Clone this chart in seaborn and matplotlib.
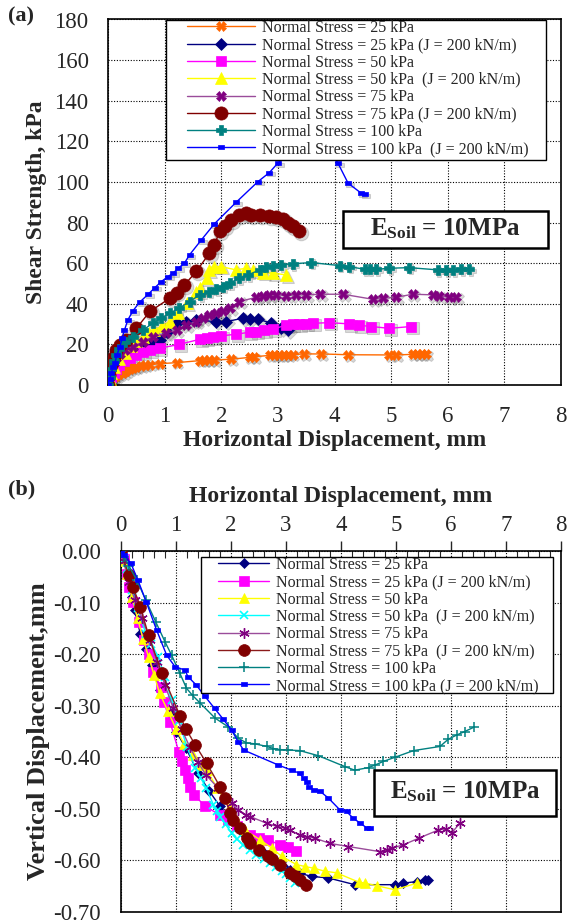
import numpy as np
import pandas as pd
import matplotlib
matplotlib.use("Agg")
import matplotlib.pyplot as plt
from matplotlib.patches import Rectangle
from matplotlib.ticker import MultipleLocator, FormatStrFormatter
from matplotlib.transforms import ScaledTranslation
import seaborn as sns

# ---------------- data : panel (a) shear strength ----------------
a_x_25 = [0, 0.03, 0.06, 0.1, 0.15, 0.2, 0.26, 0.32, 0.38, 0.44, 0.5, 0.59, 0.66, 0.74, 0.91, 1.21, 1.62, 1.70, 1.78, 1.88,
          2.18, 2.50, 2.58, 2.86, 2.94, 3.02, 3.10, 3.18, 3.26, 3.47, 3.76, 4.24, 4.97, 5.09, 5.38, 5.46, 5.54, 5.62]
a_y_25 = [0, 1.5, 3, 3.8, 4.5, 5.2, 5.8, 7.0, 8.0, 8.5, 9.0, 9.5, 9.8, 10.0, 10.5, 11.0, 12.0, 12.1, 12.2, 12.3,
          12.7, 13.6, 13.9, 14.6, 14.8, 14.8, 14.9, 14.9, 15.0, 15.3, 15.3, 14.9, 14.8, 14.8, 15.1, 15.1, 15.2, 15.2]
a_x_25J = [0, 0.03, 0.06, 0.1, 0.2, 0.3, 0.45, 0.6, 0.75, 0.91, 1.05, 1.21, 1.38, 1.56, 1.91, 2.09, 2.38, 2.50, 2.65,
           2.88, 3.06, 3.18]
a_y_25J = [0, 2, 5, 8, 11, 13, 16, 18.5, 20.5, 22.2, 26, 30.4, 31.1, 32.0, 31.2, 31.2, 32.9, 32.5, 32.5, 30.4, 27.9, 27.1]
a_x_50 = [0, 0.03, 0.06, 0.1, 0.15, 0.2, 0.28, 0.38, 0.5, 0.62, 0.75, 0.91, 1.26, 1.62, 1.74, 1.85, 2.0, 2.26, 2.5,
          2.62, 2.76, 2.91, 3.15, 3.26, 3.38, 3.5, 3.62, 3.91, 4.26, 4.44, 4.65, 4.97, 5.35]
a_y_50 = [0, 2, 4, 6, 8, 10, 12, 13.5, 15, 16.3, 17.2, 18.1, 20.0, 22.5, 23.0, 23.5, 24.2, 25.0, 26.0, 26.3, 27.1,
          27.4, 29.6, 29.9, 30.1, 30.2, 30.4, 30.7, 30.1, 29.4, 28.8, 27.9, 28.8]
a_x_50J = [0, 0.03, 0.06, 0.1, 0.2, 0.3, 0.4, 0.5, 0.62, 0.72, 0.82, 0.95, 1.09, 1.24, 1.40, 1.56, 1.62, 1.74, 1.79,
           1.88, 2.0, 2.26, 2.44, 2.56, 2.74, 2.91, 3.15]
a_y_50J = [0, 3, 6, 9, 13, 16, 19, 21.5, 23.8, 25.5, 27.1, 29, 31.2, 35.3, 40.5, 46.0, 47.7, 52.6, 56.7, 58.3, 58.3,
           56.7, 57.5, 56.4, 55.4, 55.1, 54.2]
a_x_75 = [0, 0.03, 0.06, 0.1, 0.15, 0.22, 0.3, 0.44, 0.62, 0.79, 1.03, 1.21, 1.38, 1.56, 1.68, 1.79, 1.91, 2.03, 2.15,
          2.32, 2.62, 2.74, 2.85, 2.97, 3.15, 3.32, 3.5, 3.74, 4.15, 4.68, 4.85, 5.09, 5.38, 5.74, 5.85, 6.03, 6.15]
a_y_75 = [0, 4, 8, 11, 13.5, 15.5, 17, 18.9, 21.4, 23.8, 25.5, 27.1, 29.6, 31.2, 32.9, 34.5, 35.3, 36.2, 37.8, 41.1,
          43.2, 43.9, 44.4, 44.4, 44.0, 44.4, 44.4, 44.7, 44.7, 42.2, 42.7, 43.2, 44.7, 44.4, 43.9, 43.2, 43.2]
a_x_75J = [0, 0.02, 0.05, 0.1, 0.15, 0.22, 0.32, 0.5, 0.74, 1.09, 1.21, 1.35, 1.56, 1.79, 1.88, 1.97, 2.06, 2.18,
           2.32, 2.44, 2.53, 2.68, 2.85, 2.97, 3.09, 3.18, 3.26, 3.37]
a_y_75J = [0, 5, 10, 14, 17, 19.5, 22.2, 27.9, 36.2, 42.7, 45.5, 49.3, 55.9, 64.9, 69.0, 75.6, 78.1, 81.3, 83.8, 84.6,
           83.8, 83.8, 83.3, 82.7, 81.7, 79.7, 78.4, 75.9]
a_x_100 = [0, 0.03, 0.06, 0.1, 0.15, 0.2, 0.3, 0.44, 0.62, 0.79, 0.94, 1.09, 1.26, 1.44, 1.62, 1.79, 1.91, 2.03, 2.15,
           2.32, 2.47, 2.68, 2.79, 2.91, 3.06, 3.26, 3.59, 4.09, 4.26, 4.53, 4.62, 4.74, 4.97, 5.32, 5.82, 5.97, 6.09,
           6.24, 6.38]
a_y_100 = [0, 4, 8, 12, 15, 17.5, 21, 23.8, 27.1, 30.4, 32.9, 35.3, 37.8, 41.1, 44.4, 46.0, 47.2, 48.5, 50.1, 52.6,
           54.2, 56.7, 58.3, 58.7, 59.2, 59.7, 60.3, 58.8, 58.3, 57.0, 57.0, 57.0, 57.5, 57.8, 56.7, 56.7, 56.7, 57.0, 57.0]
a_x_100J = [0, 0.03, 0.06, 0.09, 0.12, 0.16, 0.21, 0.25, 0.29, 0.35, 0.44, 0.56, 0.71, 0.83, 0.94, 1.06, 1.15, 1.24,
            1.35, 1.44, 1.65, 1.88, 2.26, 2.65, 2.85, 3.0, 3.3, 3.6, 3.9, 4.06, 4.24, 4.47, 4.53]
a_y_100J = [0, 3, 6, 9, 10.7, 15, 18.9, 23, 27, 32, 36.5, 40.8, 44.7, 48, 50.9, 53.4, 55.1, 57.5, 60.0, 64.1, 71.5,
            79.4, 89.9, 100.2, 104.6, 109.3, 117, 120, 116, 109.3, 99.4, 94.5, 94.0]

# ---------------- data : panel (b) vertical displacement ----------------
b_x_25 = [0, 0.05, 0.1, 0.15, 0.2, 0.25, 0.35, 0.45, 0.56, 0.7, 0.89, 1.0, 1.18, 1.4, 1.6, 1.80, 2.0, 2.2, 2.4, 2.6,
          2.8, 2.95, 3.07, 3.25, 3.47, 3.77, 4.25, 4.98, 5.13, 5.38, 5.53, 5.59]
b_y_25 = [0, -0.02, -0.04, -0.065, -0.09, -0.115, -0.16, -0.19, -0.221, -0.27, -0.315, -0.35, -0.382, -0.43, -0.465,
          -0.495, -0.52, -0.545, -0.565, -0.585, -0.60, -0.61, -0.618, -0.625, -0.631, -0.634, -0.647, -0.647, -0.644,
          -0.641, -0.637, -0.637]
b_x_25J = [0, 0.05, 0.1, 0.15, 0.22, 0.32, 0.41, 0.50, 0.59, 0.72, 0.78, 0.89, 1.05, 1.10, 1.16, 1.21, 1.25, 1.33,
           1.53, 1.80, 1.95, 2.10, 2.35, 2.50, 2.68, 2.89, 3.04, 3.19]
b_y_25J = [0, -0.015, -0.045, -0.07, -0.099, -0.137, -0.173, -0.199, -0.234, -0.263, -0.292, -0.331, -0.389, -0.408,
           -0.425, -0.441, -0.457, -0.473, -0.495, -0.512, -0.521, -0.533, -0.55, -0.557, -0.56, -0.57, -0.573, -0.582]
b_x_50 = [0, 0.05, 0.1, 0.2, 0.3, 0.4, 0.5, 0.6, 0.7, 0.85, 1.0, 1.15, 1.3, 1.45, 1.56, 1.75, 1.98, 2.25, 2.53, 2.74,
          2.92, 3.19, 3.35, 3.50, 3.71, 3.92, 4.32, 4.44, 4.65, 4.98, 5.38]
b_y_50 = [0, -0.02, -0.045, -0.09, -0.13, -0.17, -0.205, -0.24, -0.275, -0.31, -0.345, -0.375, -0.395, -0.415, -0.425,
          -0.46, -0.496, -0.541, -0.560, -0.576, -0.592, -0.608, -0.612, -0.615, -0.621, -0.624, -0.642, -0.644,
          -0.649, -0.657, -0.644]
b_x_50J = [0, 0.05, 0.1, 0.2, 0.3, 0.45, 0.55, 0.68, 0.8, 0.92, 1.05, 1.2, 1.35, 1.45, 1.55, 1.68, 1.74, 1.80, 1.9,
           2.01, 2.1, 2.22, 2.35, 2.46, 2.6, 2.71, 2.82, 2.92, 3.0, 3.07, 3.16]
b_y_50J = [0, -0.015, -0.035, -0.075, -0.11, -0.16, -0.18, -0.205, -0.245, -0.289, -0.33, -0.38, -0.42, -0.44, -0.46,
           -0.492, -0.505, -0.515, -0.53, -0.547, -0.558, -0.570, -0.58, -0.589, -0.598, -0.605, -0.613, -0.621,
           -0.627, -0.634, -0.644]
b_x_75 = [0, 0.05, 0.15, 0.25, 0.38, 0.53, 0.65, 0.8, 0.95, 1.1, 1.25, 1.4, 1.55, 1.77, 2.01, 2.13, 2.28, 2.35, 2.65,
          2.83, 2.98, 3.07, 3.25, 3.38, 3.53, 3.80, 4.13, 4.71, 4.83, 4.92, 5.13, 5.41, 5.77, 5.9, 6.01, 6.16]
b_y_75 = [0, -0.02, -0.06, -0.095, -0.13, -0.173, -0.215, -0.26, -0.305, -0.345, -0.38, -0.41, -0.435, -0.46, -0.489,
          -0.502, -0.512, -0.515, -0.528, -0.534, -0.537, -0.541, -0.551, -0.554, -0.557, -0.567, -0.573, -0.583,
          -0.579, -0.576, -0.570, -0.557, -0.541, -0.539, -0.547, -0.528]
b_x_75J = [0, 0.14, 0.22, 0.35, 0.50, 0.74, 1.07, 1.18, 1.35, 1.56, 1.80, 1.89, 1.98, 2.04, 2.16, 2.29, 2.35, 2.50,
           2.68, 2.74, 2.89, 3.07, 3.16, 3.25, 3.36]
b_y_75J = [0, -0.047, -0.07, -0.108, -0.163, -0.236, -0.319, -0.345, -0.376, -0.412, -0.457, -0.479, -0.508, -0.521,
           -0.537, -0.557, -0.566, -0.579, -0.592, -0.598, -0.608, -0.624, -0.631, -0.637, -0.647]
b_x_100 = [0, 0.06, 0.15, 0.29, 0.45, 0.63, 0.8, 0.92, 1.07, 1.19, 1.3, 1.44, 1.71, 1.95, 2.13, 2.28, 2.44, 2.65,
           2.77, 2.89, 3.04, 3.25, 3.59, 4.07, 4.25, 4.50, 4.62, 4.77, 4.98, 5.32, 5.8, 5.95, 6.1, 6.25, 6.41]
b_y_100 = [0, -0.011, -0.03, -0.057, -0.095, -0.137, -0.176, -0.202, -0.237, -0.266, -0.28, -0.295, -0.324, -0.341,
           -0.363, -0.372, -0.374, -0.379, -0.383, -0.385, -0.386, -0.387, -0.397, -0.418, -0.425, -0.42, -0.415,
           -0.408, -0.4, -0.387, -0.379, -0.365, -0.357, -0.35, -0.342]
b_x_100J = [0, 0.06, 0.18, 0.31, 0.46, 0.65, 0.83, 0.98, 1.16, 1.22, 1.37, 1.52, 1.7, 1.85, 2.01, 2.13, 2.23, 2.86,
            3.10, 3.25, 3.32, 3.38, 3.41, 3.50, 3.62, 3.77, 3.98, 4.10, 4.22, 4.34, 4.47, 4.53]
b_y_100J = [0, -0.008, -0.024, -0.057, -0.099, -0.154, -0.202, -0.224, -0.231, -0.244, -0.26, -0.281, -0.305, -0.325,
            -0.347, -0.37, -0.386, -0.415, -0.425, -0.431, -0.441, -0.447, -0.457, -0.463, -0.466, -0.479, -0.502,
            -0.505, -0.518, -0.527, -0.537, -0.537]

labels_a = ["Normal Stress = 25 kPa", "Normal Stress = 25 kPa (J = 200 kN/m)", "Normal Stress = 50 kPa",
            "Normal Stress = 50 kPa  (J = 200 kN/m)", "Normal Stress = 75 kPa",
            "Normal Stress = 75 kPa (J = 200 kN/m)", "Normal Stress = 100 kPa",
            "Normal Stress = 100 kPa  (J = 200 kN/m)"]
labels_b = ["Normal Stress = 25 kPa", "Normal Stress = 25 kPa (J = 200 kN/m)", "Normal Stress = 50 kPa",
            "Normal Stress = 50 kPa  (J = 200 kN/m)", "Normal Stress = 75 kPa",
            "Normal Stress = 75 kPa  (J = 200 kN/m)", "Normal Stress = 100 kPa",
            "Normal Stress = 100 kPa (J = 200 kN/m)"]

# ---------------- style ----------------
sns.set_style("white")
plt.rcParams.update({
    "font.family": ["Liberation Serif", "DejaVu Serif"],
    "mathtext.fontset": "custom",
    "mathtext.rm": "Liberation Serif",
    "mathtext.bf": "Liberation Serif:bold",
    "mathtext.it": "Liberation Serif:italic",
    "axes.unicode_minus": False,
})

W, H = 569, 921
fig = plt.figure(figsize=(W / 100, H / 100), dpi=100)
fig.patch.set_facecolor("white")


def fx(px):
    return px / W


def fy(py):
    return 1 - py / H


rect_marker = [(-1, -0.55), (1, -0.55), (1, 0.55), (-1, 0.55), (-1, -0.55)]

ax_a = fig.add_axes([fx(108), fy(385), (561 - 108) / W, (385 - 19.5) / H])
ax_b = fig.add_axes([fx(121), fy(912), (561 - 121) / W, (912 - 551) / H])

shadow = ax_a.transData + ScaledTranslation(1.8 / 100, -1.8 / 100, fig.dpi_scale_trans)

# series spec for panel (a): (x, y, line colour, marker colour, marker, size, edge width)
spec_a = [
    (a_x_25, a_y_25, "#FF6A00", "#FF6600", "X", 6.5, 0.5),
    (a_x_25J, a_y_25J, "#000080", "#000080", "D", 6.0, 0.5),
    (a_x_50, a_y_50, "#FF00FF", "#FF00FF", "s", 7.5, 0.5),
    (a_x_50J, a_y_50J, "#FFFF00", "#FFFF00", "^", 8.0, 0.5),
    (a_x_75, a_y_75, "#9A4C9A", "#800080", "X", 7.0, 0.5),
    (a_x_75J, a_y_75J, "#800000", "#800000", "o", 9.5, 0.5),
    (a_x_100, a_y_100, "#008080", "#008080", "P", 6.5, 0.5),
    (a_x_100J, a_y_100J, "#0000FF", "#0000FF", rect_marker, 4.5, 0.5),
]
for (xs, ys, lc, mc, mk, ms, mew), lab in zip(spec_a, labels_a):
    df = pd.DataFrame({"x": xs, "y": ys})
    # soft drop shadow of the markers (as in the reference)
    sns.lineplot(data=df, x="x", y="y", sort=False, estimator=None, ax=ax_a, linestyle="none",
                 marker=mk, markersize=ms + 1.0, markerfacecolor="#555555", markeredgecolor="#555555",
                 alpha=0.22, transform=shadow, zorder=2.5)
    sns.lineplot(data=df, x="x", y="y", sort=False, estimator=None, ax=ax_a, color=lc, linewidth=1.0,
                 marker=mk, markersize=ms, markerfacecolor=mc, markeredgecolor=mc, markeredgewidth=mew,
                 label=lab, zorder=3)

spec_b = [
    (b_x_25, b_y_25, "#000080", "#000080", "D", 5.5, 0.5),
    (b_x_25J, b_y_25J, "#FF00FF", "#FF00FF", "s", 7.5, 0.5),
    (b_x_50, b_y_50, "#FFFF00", "#FFFF00", "^", 7.0, 0.5),
    (b_x_50J, b_y_50J, "#00FFFF", "#00FFFF", "x", 6.0, 1.2),
    (b_x_75, b_y_75, "#9A4C9A", "#800080", (6, 2, 0), 7.5, 1.0),
    (b_x_75J, b_y_75J, "#8B1A1A", "#800000", "o", 8.5, 0.5),
    (b_x_100, b_y_100, "#008080", "#008080", "+", 7.0, 1.1),
    (b_x_100J, b_y_100J, "#0000FF", "#0000FF", rect_marker, 4.0, 0.5),
]
for (xs, ys, lc, mc, mk, ms, mew), lab in zip(spec_b, labels_b):
    df = pd.DataFrame({"x": xs, "y": ys})
    sns.lineplot(data=df, x="x", y="y", sort=False, estimator=None, ax=ax_b, color=lc, linewidth=1.0,
                 marker=mk, markersize=ms, markerfacecolor=mc, markeredgecolor=mc, markeredgewidth=mew,
                 label=lab, zorder=3)

# ---------------- axes formatting ----------------
TICK_FS = 16.5
LAB_FS = 17

for ax in (ax_a, ax_b):
    ax.set_xlim(0, 8)
    ax.xaxis.set_major_locator(MultipleLocator(1))
    ax.xaxis.set_minor_locator(MultipleLocator(0.2))
    ax.grid(True, which="major", color="black", linestyle=(0, (1, 1.5)), linewidth=0.8, zorder=0)
    ax.set_axisbelow(True)
    for s in ax.spines.values():
        s.set_linewidth(1.2)
        s.set_color("black")
        s.set_visible(True)

ax_a.set_ylim(0, 180)
ax_a.yaxis.set_major_locator(MultipleLocator(20))
ax_a.yaxis.set_minor_locator(MultipleLocator(4))
ax_a.tick_params(which="major", direction="inout", length=10, width=1.0, labelsize=TICK_FS, pad=9)
ax_a.tick_params(which="minor", direction="in", length=5, width=0.8)
ax_a.tick_params(axis="x", which="major", pad=10)
ax_a.set_xlabel("Horizontal Displacement, mm", fontsize=LAB_FS, fontweight="bold", labelpad=2)
ax_a.set_ylabel("Shear Strength, kPa", fontsize=LAB_FS, fontweight="bold", labelpad=5)

ax_b.set_ylim(-0.70, 0.0)
ax_b.yaxis.set_major_locator(MultipleLocator(0.1))
ax_b.yaxis.set_minor_locator(MultipleLocator(0.02))
ax_b.yaxis.set_major_formatter(FormatStrFormatter("%.2f"))
ax_b.xaxis.tick_top()
ax_b.xaxis.set_label_position("top")
ax_b.tick_params(which="major", direction="out", length=7, width=1.0, labelsize=TICK_FS, pad=4)
ax_b.tick_params(axis="y", which="major", pad=7.5)
ax_b.tick_params(which="minor", direction="in", length=5, width=0.8)
ax_b.tick_params(axis="x", which="both", top=True, bottom=False)
ax_b.set_xlabel("Horizontal Displacement, mm", fontsize=LAB_FS, fontweight="bold", labelpad=9)
ax_b.set_ylabel("Vertical Displacement,mm", fontsize=19, fontweight="bold", labelpad=2)

# ---------------- legends ----------------
LEG_FS = 11.5


def make_legend(ax, labels, x_handle, y_top, box, hl):
    handles, labs = ax.get_legend_handles_labels()
    leg = ax.legend(handles, labels, loc="upper left", bbox_to_anchor=(fx(x_handle), fy(y_top)),
                    bbox_transform=fig.transFigure, frameon=False, borderpad=0, borderaxespad=0,
                    handlelength=hl, handletextpad=0.45, labelspacing=0.08, fontsize=LEG_FS, handleheight=0.7)
    leg.set_zorder(6)
    x0, y0, x1, y1 = box
    ax.add_patch(Rectangle((fx(x0), fy(y1)), (x1 - x0) / W, (y1 - y0) / H, transform=fig.transFigure,
                           facecolor="white", edgecolor="black", linewidth=1.0, zorder=5, clip_on=False))


make_legend(ax_a, labels_a, 187, 20, (166, 20, 546, 160), 4.25)
make_legend(ax_b, labels_b, 218, 557, (201, 557, 553, 693), 3.2)

# ---------------- E_soil boxes ----------------
for ax, box in ((ax_a, (343, 211, 548, 248)), (ax_b, (374, 770, 556, 816))):
    x0, y0, x1, y1 = box
    ax.add_patch(Rectangle((fx(x0), fy(y1)), (x1 - x0) / W, (y1 - y0) / H, transform=fig.transFigure,
                           facecolor="white", edgecolor="black", linewidth=1.8, zorder=5, clip_on=False))
    ax.text(fx((x0 + x1) / 2), fy((y0 + y1) / 2 - 1), r"$\mathbf{E}_{\mathbf{Soil}}$ = 10MPa", transform=fig.transFigure,
            ha="center", va="center", fontsize=18, fontweight="bold", zorder=7)

fig.text(fx(8), fy(16), "(a)", fontsize=16, fontweight="bold", ha="left", va="center")
fig.text(fx(8), fy(489), "(b)", fontsize=16, fontweight="bold", ha="left", va="center")

fig.savefig("out.png", dpi=100)
